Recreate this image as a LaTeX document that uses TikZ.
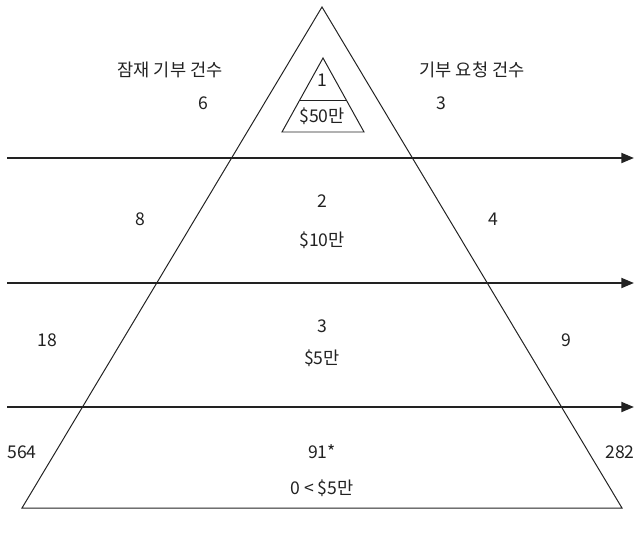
\documentclass[tikz,border=0pt]{standalone}
\usepackage{fontspec}
\setmainfont{Noto Sans CJK KR}
\usetikzlibrary{arrows.meta,calc,positioning}

\begin{document}
\begin{tikzpicture}[x=0.025cm, y=-0.025cm, >={Triangle[length=9pt,width=7pt]}, font=\fontsize{12.5pt}{14pt}\selectfont]
  \definecolor{ink}{HTML}{222222}
  \tikzset{
    lbl/.style={text=ink, inner sep=1pt},
    level/.style={->, ink, line width=1.6pt}
  }
  \useasboundingbox[fill=white] (0,0) rectangle (635,533);

  % pyramid
  \coordinate (apex) at (322,7);
  \coordinate (bl) at (22,508);
  \coordinate (br) at (622,508);
  \draw[ink, line width=0.7pt] (bl) -- (apex) -- (br) -- cycle;

  % top tier
  \coordinate (tapex) at (323,58);
  \coordinate (tbl) at (282,132);
  \coordinate (tbr) at (364,132);
  \draw[ink, line width=0.7pt] (tbl) -- (tapex) -- (tbr) -- cycle;
  \draw[ink, line width=0.7pt] ($(tapex)!0.57!(tbl)$) -- ($(tapex)!0.57!(tbr)$);

  % arrows between tiers
  \coordinate (s1) at (7,158);  \coordinate (e1) at (634,158);
  \coordinate (s2) at (7,283);  \coordinate (e2) at (634,283);
  \coordinate (s3) at (7,407);  \coordinate (e3) at (634,407);
  \draw[level] (s1) -- (e1);
  \draw[level] (s2) -- (e2);
  \draw[level] (s3) -- (e3);

  % headings
  \node[lbl] (hleft) at (170,70) {잠재 기부 건수};
  \node[lbl] (hright) at (472,70) {기부 요청 건수};

  % tier 1
  \node[lbl] (l1) at (203,103) {6};
  \node[lbl] (r1) at (441,103) {3};
  \node[lbl] (n1) at (322,80) {1};
  \node[lbl] (v1) at (322,116) {\$50만};

  % tier 2
  \node[lbl] (l2) at (140,219) {8};
  \node[lbl] (r2) at (493,219) {4};
  \node[lbl] (n2) at (322,201) {2};
  \node[lbl] (v2) at (322,240) {\$10만};

  % tier 3
  \node[lbl] (l3) at (47,340) {18};
  \node[lbl] (r3) at (566,340) {9};
  \node[lbl] (n3) at (322,326) {3};
  \node[lbl] (v3) at (322,358) {\$5만};

  % tier 4
  \node[lbl] (l4) at (22,452) {564};
  \node[lbl] (r4) at (620,452) {282};
  \node[lbl] (n4) at (322,452) {91*};
  \node[lbl] (v4) at (322,488) {0 < \$5만};
\end{tikzpicture}
\end{document}
